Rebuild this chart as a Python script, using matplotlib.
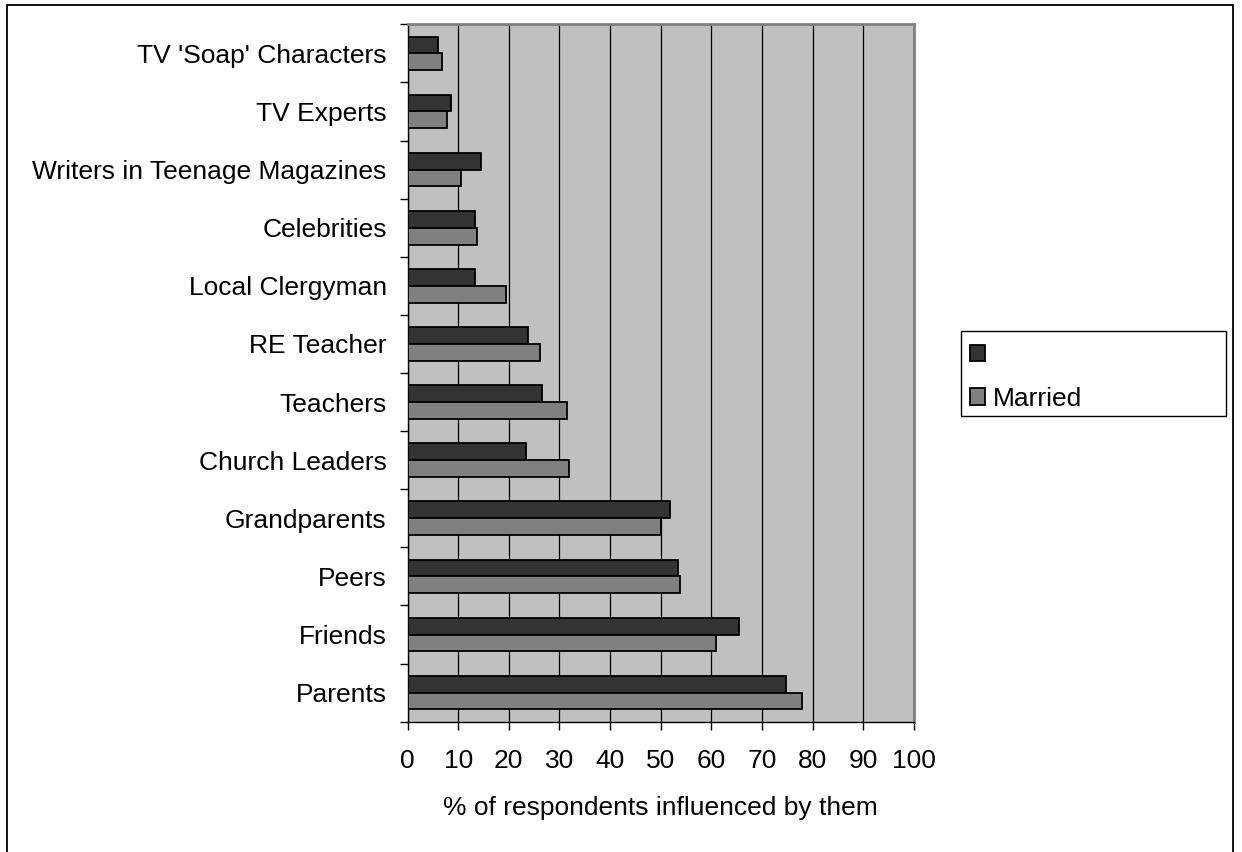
import matplotlib
matplotlib.use("Agg")
import matplotlib.pyplot as plt
from matplotlib.patches import Patch, Rectangle
import numpy as np

plt.rcParams['font.family'] = ['Liberation Sans', 'DejaVu Sans']

# Categories listed bottom to top
categories = [
    "Parents", "Friends", "Peers", "Grandparents", "Church Leaders",
    "Teachers", "RE Teacher", "Local Clergyman", "Celebrities",
    "Writers in Teenage Magazines", "TV Experts", "TV 'Soap' Characters",
]
series_first = [74.7, 65.4, 53.4, 51.8, 23.3, 26.6, 23.7, 13.3, 13.3, 14.5, 8.5, 6.1]
series_married = [77.9, 61.0, 53.8, 50.1, 31.8, 31.4, 26.2, 19.4, 13.8, 10.5, 7.7, 6.9]
legend_labels = ["", "Married"]
x_ticks = list(range(0, 101, 10))
x_label = "% of respondents influenced by them"

FS = 19
W, H = 1242, 852
fig = plt.figure(figsize=(W / 100, H / 100), dpi=100)

# Outer chart border
fig.patches.append(Rectangle((7 / W, -0.01), (1233 - 7) / W, 1 - 5 / H + 0.01,
                             transform=fig.transFigure, fill=False,
                             edgecolor='black', linewidth=1.3, zorder=0))

ax = fig.add_axes([407.5 / W, 1 - 721.7 / H, (914 - 407.5) / W, (721.7 - 24.3) / H])
ax.set_facecolor('#C0C0C0')

y = np.arange(len(categories))
h = 0.29
ax.barh(y + h / 2, series_first, height=h, color='#333333',
        edgecolor='black', linewidth=1.3, zorder=3)
ax.barh(y - h / 2, series_married, height=h, color='#808080',
        edgecolor='black', linewidth=1.3, zorder=3)

ax.set_xlim(0, 100)
ax.set_ylim(-0.5, len(categories) - 0.5)

ax.set_xticks(x_ticks)
ax.set_xticklabels([str(t) for t in x_ticks], fontsize=FS)
ax.tick_params(axis='x', direction='out', length=6, width=1, pad=14)
ax.xaxis.grid(True, color='black', linewidth=0.9, zorder=1)
ax.set_axisbelow(True)

ax.set_yticks(y)
ax.set_yticklabels(categories, fontsize=FS)
ax.tick_params(axis='y', which='major', length=0, pad=15)
ax.set_yticks(np.arange(-0.5, len(categories), 1.0), minor=True)
ax.tick_params(axis='y', which='minor', direction='out', length=6, width=1)

ax.set_xlabel(x_label, fontsize=FS, labelpad=16)

for side in ('left', 'bottom'):
    ax.spines[side].set_color('black')
    ax.spines[side].set_linewidth(1.0)
for side in ('top', 'right'):
    ax.spines[side].set_color('#808080')
    ax.spines[side].set_linewidth(2.0)

# Legend box and entries
fig.patches.append(Rectangle((960.7 / W, 1 - 416 / H), (1226 - 960.7) / W, (416 - 331) / H,
                             transform=fig.transFigure, fill=True, facecolor='white',
                             edgecolor='black', linewidth=1.0, zorder=2))
handles = [Patch(facecolor='#333333', edgecolor='black', linewidth=1.3),
           Patch(facecolor='#808080', edgecolor='black', linewidth=1.3)]
fig.legend(handles, legend_labels, loc='upper left',
           bbox_to_anchor=(970 / W, 1 - 343 / H), bbox_transform=fig.transFigure,
           frameon=False, fontsize=FS, handlelength=0.57, handleheight=0.57,
           handletextpad=0.3, labelspacing=0.75, borderaxespad=0, borderpad=0)

fig.savefig("out.png", dpi=100)
